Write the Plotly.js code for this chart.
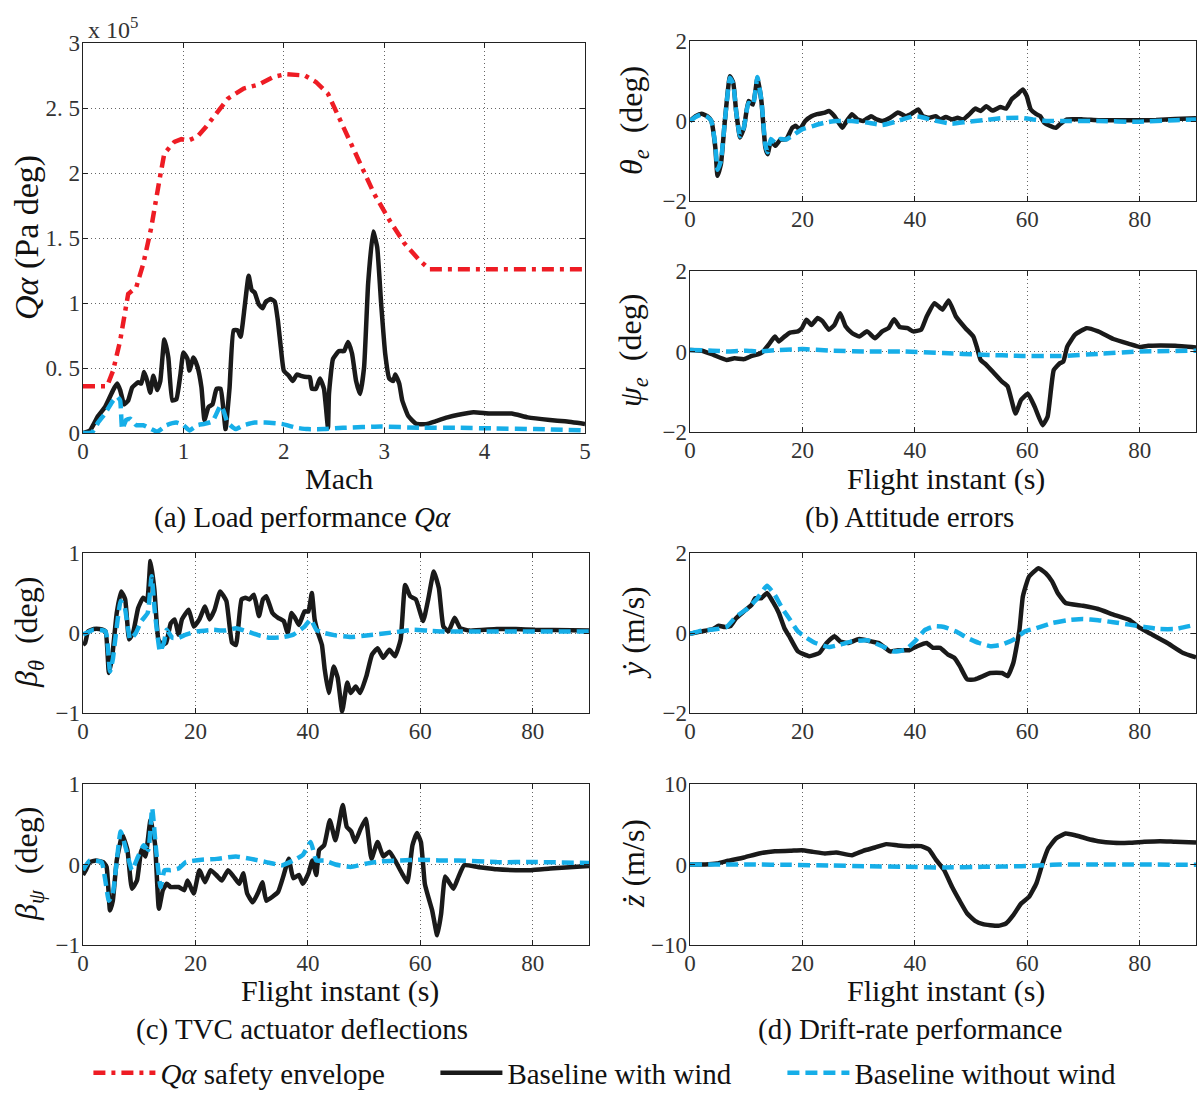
<!DOCTYPE html>
<html><head><meta charset="utf-8">
<script src="https://cdn.plot.ly/plotly-3.0.1.min.js"></script>
<style>html,body{margin:0;padding:0;background:#fff;}</style>
</head><body>
<div id="chart" style="width:1201px;height:1097px;"></div>
<script>
// ---------- DATA ----------
// (a) Q-alpha vs Mach, values in units of 1e5 Pa·deg
const machEnv = [0,0.24,0.30,0.37,0.45,0.53,0.60,0.68,0.76,0.81,0.91,0.98,1.05,1.14,1.23,1.33,1.44,1.60,1.75,1.90,2.02,2.21,2.32,2.44,2.59,2.74,2.90,3.05,3.20,3.35,3.45,5.0];
const qaEnv   = [0.36,0.36,0.48,0.71,1.07,1.12,1.30,1.58,1.94,2.15,2.24,2.26,2.25,2.28,2.36,2.46,2.57,2.65,2.68,2.74,2.76,2.75,2.70,2.61,2.36,2.12,1.84,1.64,1.46,1.33,1.26,1.26];
const machWind = [0,0.07,0.15,0.22,0.30,0.34,0.37,0.41,0.45,0.49,0.55,0.58,0.61,0.64,0.67,0.70,0.74,0.77,0.81,0.85,0.89,0.93,0.97,1.00,1.04,1.06,1.10,1.14,1.18,1.21,1.25,1.29,1.33,1.37,1.40,1.42,1.46,1.50,1.54,1.57,1.61,1.65,1.68,1.71,1.75,1.79,1.82,1.87,1.91,1.94,1.97,2.00,2.05,2.09,2.13,2.17,2.23,2.26,2.28,2.32,2.36,2.40,2.44,2.45,2.49,2.55,2.60,2.64,2.68,2.72,2.76,2.80,2.84,2.89,2.93,2.97,3.01,3.05,3.09,3.11,3.15,3.18,3.24,3.32,3.43,3.51,3.63,3.74,3.89,4.05,4.27,4.43,4.65,4.80,5.0];
const qaWind   = [0,0.02,0.13,0.20,0.33,0.38,0.33,0.22,0.25,0.35,0.39,0.38,0.47,0.40,0.31,0.44,0.33,0.40,0.72,0.58,0.25,0.26,0.45,0.62,0.57,0.48,0.58,0.51,0.35,0.10,0.20,0.22,0.34,0.34,0.17,0.03,0.35,0.79,0.79,0.74,0.97,1.21,1.10,1.08,0.99,0.96,1.01,1.03,1.01,0.87,0.66,0.48,0.44,0.40,0.45,0.44,0.43,0.43,0.34,0.34,0.42,0.34,0.04,0.30,0.57,0.63,0.63,0.70,0.61,0.40,0.30,0.51,1.15,1.55,1.43,0.99,0.61,0.42,0.40,0.45,0.38,0.25,0.13,0.07,0.07,0.09,0.12,0.14,0.16,0.15,0.15,0.12,0.10,0.09,0.07];
const machNoWind = [0,0.09,0.15,0.22,0.30,0.34,0.37,0.39,0.43,0.47,0.53,0.60,0.68,0.74,0.83,0.93,1.00,1.06,1.14,1.21,1.29,1.37,1.40,1.44,1.52,1.60,1.71,1.82,1.98,2.13,2.24,2.40,2.59,2.97,3.35,3.74,4.11,4.50,5.0];
const qaNoWind   = [0,0.005,0.08,0.15,0.25,0.28,0.25,0.03,0.10,0.11,0.06,0.06,0.03,0.01,0.06,0.08,0.06,0.02,0.06,0.07,0.09,0.21,0.17,0.08,0.03,0.06,0.08,0.08,0.07,0.04,0.03,0.03,0.04,0.05,0.04,0.04,0.035,0.03,0.02];
const qaTickVals = [0,0.5,1,1.5,2,2.5,3];
const qaTickText = ['0','0. 5','1','1. 5','2','2. 5','3'];

// (b) attitude errors (deg) vs flight time (s)
const tThetaW = [0,1,2.05,3.1,3.8,4.5,4.9,5.5,6.2,7.1,7.7,8.2,8.9,9.6,10.4,11.2,12.0,12.7,13.4,13.8,14.4,15.2,16.1,17.1,18.2,18.8,19.5,20.5,21.6,22.6,24.0,24.7,25.7,27.1,27.7,28.8,29.8,30.8,32.2,33.2,34.2,35.6,37.0,38.4,39.4,40.6,41.4,42.5,43.7,44.5,45.5,46.6,47.6,48.6,49.7,50.7,51.7,52.7,53.8,55.2,56.2,57.2,58.2,59.2,59.9,60.6,61.6,62.3,63.0,64.0,65.1,65.8,67.1,69.9,72.6,76.0,79.5,82.9,86.3,90];
const thetaW  = [0,0.12,0.18,0.12,0,-0.66,-1.37,-1.08,0,1.12,0.95,0.25,-0.41,-0.17,0.50,0.41,1.08,0.50,-0.66,-0.83,-0.50,-0.62,-0.46,-0.46,-0.17,-0.12,-0.21,0,0.12,0.17,0.21,0.25,0.12,-0.17,-0.04,0.17,0.04,0,0.12,0.04,0,0.08,0.21,0.12,0.18,0.29,0.12,0.08,0.12,0.04,0.10,0.04,0.08,0.04,0.17,0.31,0.25,0.37,0.26,0.35,0.31,0.54,0.66,0.79,0.62,0.29,0.17,0.12,-0.04,-0.12,-0.17,-0.08,0.04,0.04,0.02,0.02,0.02,0.025,0.05,0.07];
const tThetaN = [0,1,2.05,3.1,3.8,4.5,4.9,5.5,6.2,7.1,7.7,8.2,8.9,9.6,10.4,11.2,12.0,12.7,13.4,13.8,14.4,15.2,16.1,17.1,18.2,19.9,22.0,24.0,26.0,28.8,31.5,34.2,37.0,39.7,41.1,43.2,46.6,49.3,52.1,55.5,58.9,61.0,63.7,66.4,72.6,79.5,86.3,90];
const thetaN  = [0,0.10,0.16,0.10,0,-0.6,-1.22,-1.0,0,1.08,0.92,0.25,-0.38,-0.15,0.45,0.40,1.10,0.52,-0.6,-0.78,-0.45,-0.55,-0.45,-0.46,-0.37,-0.21,-0.12,-0.04,0,0,-0.04,-0.10,0,0.12,0.10,0.02,-0.07,-0.02,0.02,0.07,0.08,0.04,0,0,0,-0.02,0.02,0.04];
const tPsiW = [0,2.1,4.1,6.5,7.9,9.6,11.0,12.3,13.0,14.0,15.1,15.8,16.8,17.8,19.2,19.9,20.7,21.6,22.7,23.6,24.7,25.7,26.7,27.7,28.8,30.1,31.5,32.9,34.2,35.3,36.3,37.3,38.7,39.7,41.1,42.1,43.5,44.9,46.0,47.3,49.0,50.4,51.0,51.7,52.7,54.1,55.5,56.5,57.9,58.9,60.1,61.3,62.7,63.6,64.7,65.8,66.4,67.1,68.5,70.5,72.6,75.3,78.1,80.1,81.5,83.6,86.3,90];
const psiW  = [0.04,0.02,-0.08,-0.21,-0.17,-0.19,-0.11,-0.06,0,0.17,0.37,0.25,0.37,0.47,0.50,0.58,0.79,0.66,0.83,0.75,0.54,0.66,0.95,0.62,0.46,0.37,0.50,0.33,0.50,0.58,0.80,0.61,0.58,0.50,0.54,0.87,1.20,1.04,1.27,0.87,0.58,0.37,0.12,-0.21,-0.33,-0.54,-0.75,-0.87,-1.54,-1.20,-1.05,-1.37,-1.83,-1.62,-0.46,-0.29,-0.25,0.12,0.42,0.58,0.50,0.31,0.19,0.11,0.14,0.15,0.14,0.10];
const tPsiN = [0,4,7,10,12,16,20,25,31.5,38,45,52,59,66,72.6,79.5,90];
const psiN  = [0.04,0.02,0,0.02,0,0.04,0.06,0.02,0,0,-0.04,-0.08,-0.11,-0.11,-0.06,0,0.02];

// (c) TVC actuator deflections (deg)
const tBthW = [0,0.4,0.9,1.9,2.9,4.0,4.6,5.2,6.0,6.8,7.5,8.2,8.9,9.8,10.7,11.4,12.0,12.7,13.4,14.1,14.8,15.6,16.3,17.0,17.6,18.8,19.7,20.7,21.7,22.5,23.4,24.4,25.5,26.5,27.2,28.2,28.9,29.6,30.4,31.3,32.0,32.6,33.7,34.7,35.7,36.4,37.1,37.7,38.4,39.4,40.1,40.7,41.2,41.8,42.5,43.0,43.7,44.6,45.3,46.1,47.0,47.6,48.5,49.3,50.4,51.4,52.4,53.4,54.5,55.5,56.5,57.3,58.2,59.2,60.5,61.4,62.4,63.3,64.1,65.0,66.1,67.1,68.8,73.6,77.0,80.4,90];
const bthW  = [-0.15,-0.12,0.02,0.05,0.05,0.02,-0.50,-0.29,0.25,0.52,0.42,-0.08,0,0.31,0.44,0.40,0.90,0.54,-0.08,-0.15,-0.12,0.12,0.17,-0.02,0.17,0.29,0.08,0.17,0.33,0.17,0.29,0.52,0.40,-0.12,-0.15,0.42,0.44,0.42,0.48,0.21,0.42,0.46,0.25,0.19,0.15,0,0.25,0.19,0.10,0.27,0.27,0.50,0.17,0,-0.15,-0.46,-0.75,-0.42,-0.56,-0.98,-0.62,-0.75,-0.67,-0.75,-0.54,-0.27,-0.19,-0.31,-0.21,-0.29,-0.08,0.60,0.46,0.42,0.15,0.42,0.77,0.56,0.08,0.02,0.19,0.06,0.03,0.05,0.05,0.04,0.03];
const tBthN = [0,1.9,4.0,4.8,5.3,6.7,7.4,8.4,9.4,10.4,11.5,12.2,12.8,13.7,14.4,14.9,15.9,17.0,18.3,20.3,23.1,25.1,27.2,29.2,31.3,33.3,35.7,37.4,39.4,40.5,41.5,42.9,44.9,47.6,50.4,53.1,56.5,58.6,61.3,64.0,70.1,80.4,90];
const bthN  = [-0.02,0.04,0.02,-0.48,-0.33,0.40,0.33,-0.08,0,0.15,0.25,0.71,0.25,-0.23,-0.12,0.04,-0.06,-0.06,-0.02,0.02,0.04,0.03,0.06,0.02,-0.03,-0.06,-0.05,-0.02,0.08,0.17,0.04,0,-0.03,-0.05,-0.03,-0.01,0.02,0.04,0.03,0.02,0.02,0.02,0.02];
const tBpsW = [0,0.5,1.2,2.3,3.6,4.2,4.8,5.3,6.0,7.0,7.9,8.7,9.6,10.4,11.1,12.0,12.8,13.5,14.2,14.9,15.6,17.0,18.0,18.6,19.7,20.7,21.7,22.7,23.7,24.7,25.8,26.8,27.8,28.5,29.2,30.2,31.2,31.9,32.6,33.7,34.7,35.7,36.6,37.4,38.4,39.1,40.1,40.8,41.5,42.0,42.9,43.9,44.9,46.2,46.9,47.7,48.4,49.3,50.3,51.3,52.4,53.4,54.5,55.5,56.9,57.7,58.6,59.4,60.1,60.8,61.4,62.1,63.0,63.7,64.4,65.1,65.9,66.8,67.8,70.2,73.6,77.0,79.7,83.1,87.2,90];
const bpsW  = [-0.13,-0.07,0.03,0.05,0.03,-0.03,-0.57,-0.45,0.05,0.37,0.18,-0.30,-0.20,0.18,0.10,0.55,0.26,-0.55,-0.32,-0.24,-0.28,-0.28,-0.32,-0.20,-0.36,-0.07,-0.22,-0.07,-0.13,-0.20,-0.07,-0.15,-0.24,-0.11,-0.36,-0.47,-0.34,-0.22,-0.45,-0.40,-0.34,-0.13,0.07,-0.17,-0.13,-0.24,-0.11,0.05,-0.13,0.18,0.24,0.55,0.30,0.74,0.47,0.41,0.28,0.43,0.57,0.07,0.28,0.10,0.16,0.05,-0.13,-0.22,0.24,0.39,0.28,-0.24,-0.40,-0.57,-0.88,-0.61,-0.15,-0.22,-0.30,-0.15,-0.01,-0.03,-0.06,-0.07,-0.07,-0.05,-0.03,-0.02];
const tBpsN = [0,1.2,3.3,4.6,5.3,6.7,7.7,8.7,9.8,10.8,11.6,12.3,13.0,13.8,14.5,15.6,17.0,18.3,21.1,23.8,27.2,29.9,32.6,35.4,37.4,39.1,40.5,41.5,42.9,44.9,47.6,50.3,53.1,56.5,59.9,63.3,66.8,73.6,80.4,90];
const bpsN  = [-0.07,0.05,0.03,-0.45,-0.36,0.41,0.18,-0.07,0.10,0.24,0.18,0.70,0.18,-0.28,-0.07,-0.07,-0.05,0.03,0.06,0.07,0.10,0.07,0.03,-0.01,0.05,0.12,0.28,0.05,0.05,0,-0.03,0.01,0.04,0.05,0.06,0.05,0.05,0.03,0.03,0.02];

// (d) drift rates (m/s)
const tYdW = [0,2.1,4.1,5.1,6.2,7.2,8.2,9.6,11.0,11.6,12.7,13.7,14.7,15.8,16.8,17.8,19.2,21.2,23.0,24.3,25.7,26.7,28.1,30.1,32.2,33.6,35.6,37.0,39.0,40.4,42.1,43.2,44.5,45.9,47.0,48.0,49.3,50.7,52.1,53.4,55.5,56.5,57.5,58.6,59.2,60.3,62.0,63.3,64.4,65.4,66.8,69.9,72.6,75.3,78.1,80.1,82.2,84.9,87.7,90];
const ydW  = [-0.02,0.04,0.10,0.18,0.15,0.17,0.37,0.54,0.71,0.87,0.87,1.00,0.79,0.50,0.12,-0.12,-0.46,-0.58,-0.50,-0.25,-0.08,-0.21,-0.25,-0.15,-0.21,-0.25,-0.46,-0.43,-0.43,-0.33,-0.25,-0.37,-0.37,-0.54,-0.62,-0.83,-1.16,-1.16,-1.08,-1.00,-1.00,-1.08,-0.75,0.08,0.91,1.41,1.62,1.49,1.29,1.00,0.75,0.68,0.60,0.46,0.33,0.12,-0.04,-0.25,-0.50,-0.61];
const tYdN = [0,2.1,4.8,6.5,8.2,10.3,12.0,13.7,15.1,16.4,17.8,19.2,20.5,22.3,24.7,26.7,28.8,31.5,34.2,36.3,38.4,40.0,41.8,43.5,45.2,47.3,49.3,51.4,53.4,55.5,57.5,59.6,61.6,64.4,67.1,69.9,72.6,75.3,78.1,80.8,83.6,86.3,90];
const ydN  = [-0.02,0.06,0.10,0.15,0.41,0.62,0.87,1.18,0.95,0.62,0.33,0.04,-0.10,-0.25,-0.35,-0.29,-0.21,-0.18,-0.33,-0.46,-0.41,-0.21,0.08,0.17,0.15,0.04,-0.12,-0.25,-0.33,-0.29,-0.17,0.04,0.12,0.25,0.32,0.35,0.32,0.27,0.21,0.15,0.10,0.10,0.21];
const tZdW = [0,2.7,4.8,6.8,9.6,12.3,15.1,17.8,19.9,21.9,24.0,26.0,28.8,30.8,32.9,34.9,37.0,39.0,41.1,42.5,43.8,45.2,46.6,47.9,49.3,50.7,52.1,53.4,54.8,56.2,57.5,58.9,60.3,61.6,62.7,63.7,65.1,66.8,68.5,70.5,72.6,75.3,78.1,80.8,83.6,86.3,90];
const zdW  = [0,0,0.12,0.46,0.87,1.37,1.66,1.70,1.78,1.57,1.37,1.49,1.16,1.70,2.11,2.53,2.36,2.28,2.28,1.86,0.54,-0.70,-2.77,-4.43,-6.09,-7.00,-7.41,-7.54,-7.62,-7.33,-6.29,-4.84,-4.02,-2.36,0.12,1.99,3.23,3.85,3.64,3.23,2.90,2.69,2.69,2.82,2.90,2.82,2.73];
const tZdN = [0,11,17.8,24.7,31.5,38.4,45.2,52.1,58.9,63.0,65.8,72.6,79.5,90];
const zdN  = [0,0,-0.04,-0.12,-0.21,-0.29,-0.37,-0.29,-0.21,-0.08,0,0,0,-0.04];

const seriesNames = ['<i>Qα</i> safety envelope','Baseline with wind','Baseline without wind'];
const timeTicks = [0,20,40,60,80];

// ---------- STYLE ----------
const FONT = "'Liberation Serif', 'Times New Roman', serif";
const RED = '#ee1c24', BLACK = '#1a1a1a', BLUE = '#16aee8';
const redLine   = {color: RED, width: 4.5, dash: '12px,6px,4px,6px'};
const blackLine = {color: BLACK, width: 4.5, shape:'spline', smoothing:0.4};
const blueLine  = {color: BLUE, width: 4.5, dash: '12px,6px', shape:'spline', smoothing:0.4};

function tr(x, y, line, ax, name, show) {
  return {type:'scatter', mode:'lines', x:x, y:y, line:line,
          xaxis:'x'+ax, yaxis:'y'+ax, name:name, showlegend:!!show, hoverinfo:'skip'};
}

const traces = [
  tr(machEnv, qaEnv, redLine, '', seriesNames[0], true),
  tr(machWind, qaWind, blackLine, '', seriesNames[1], true),
  tr(machNoWind, qaNoWind, blueLine, '', seriesNames[2], true),
  tr(tThetaW, thetaW, blackLine, '2', seriesNames[1]),
  tr(tThetaN, thetaN, blueLine, '2', seriesNames[2]),
  tr(tPsiW, psiW, blackLine, '3', seriesNames[1]),
  tr(tPsiN, psiN, blueLine, '3', seriesNames[2]),
  tr(tBthW, bthW, blackLine, '4', seriesNames[1]),
  tr(tBthN, bthN, blueLine, '4', seriesNames[2]),
  tr(tBpsW, bpsW, blackLine, '5', seriesNames[1]),
  tr(tBpsN, bpsN, blueLine, '5', seriesNames[2]),
  tr(tYdW, ydW, blackLine, '6', seriesNames[1]),
  tr(tYdN, ydN, blueLine, '6', seriesNames[2]),
  tr(tZdW, zdW, blackLine, '7', seriesNames[1]),
  tr(tZdN, zdN, blueLine, '7', seriesNames[2])
];

const W = 1201, H = 1097;
const px = (a,b) => [a/W, b/W];
const py = (top,bottom) => [1-bottom/H, 1-top/H];

function baseAx(extra) {
  return Object.assign({
    showline:true, linecolor:'#222', linewidth:1.3, mirror:'ticks',
    ticks:'inside', ticklen:5, tickcolor:'#222', tickwidth:1,
    showgrid:true, gridcolor:'#666', griddash:'1px,3px', gridwidth:1,
    zeroline:false, fixedrange:true, ticklabelstandoff:-3,
    tickfont:{family:FONT, size:23, color:'#333'}
  }, extra);
}

// text labels placed in page pixels
function label(text, x, y, size, angle) {
  return {xref:'paper', yref:'paper', x:x/W, y:1-y/H, xanchor:'center', yanchor:'middle',
          showarrow:false, text:text, textangle:angle||0,
          font:{family:FONT, size:size, color:'#111'}};
}

const xA = px(83,585), xB = px(690,1196), xC = px(83,589), xD = px(690,1196);
const layout = {
  width:W, height:H, margin:{l:0,r:0,t:0,b:0, autoexpand:false},
  paper_bgcolor:'#fff', plot_bgcolor:'#fff',
  font:{family:FONT, color:'#111'},
  showlegend:true,
  legend:{orientation:'h', x:0.507, xanchor:'center', y:1-1073/H, yanchor:'middle',
          font:{family:FONT, size:29, color:'#111'}, itemwidth:62,
          entrywidth:270, entrywidthmode:'pixels', bgcolor:'rgba(0,0,0,0)'},
  xaxis: baseAx({domain:xA, anchor:'y', range:[0,5], dtick:1}),
  yaxis: baseAx({domain:py(43,433), anchor:'x', range:[0,3], tickvals:qaTickVals, ticktext:qaTickText}),
  xaxis2: baseAx({domain:xB, anchor:'y2', range:[0,90], tickvals:timeTicks}),
  yaxis2: baseAx({domain:py(41,201), anchor:'x2', range:[-2,2], dtick:2}),
  xaxis3: baseAx({domain:xB, anchor:'y3', range:[0,90], tickvals:timeTicks}),
  yaxis3: baseAx({domain:py(271,432), anchor:'x3', range:[-2,2], dtick:2}),
  xaxis4: baseAx({domain:xC, anchor:'y4', range:[0,90], tickvals:timeTicks}),
  yaxis4: baseAx({domain:py(553,713), anchor:'x4', range:[-1,1], dtick:1}),
  xaxis5: baseAx({domain:xC, anchor:'y5', range:[0,90], tickvals:timeTicks}),
  yaxis5: baseAx({domain:py(784,945), anchor:'x5', range:[-1,1], dtick:1}),
  xaxis6: baseAx({domain:xD, anchor:'y6', range:[0,90], tickvals:timeTicks}),
  yaxis6: baseAx({domain:py(553,713), anchor:'x6', range:[-2,2], dtick:2}),
  xaxis7: baseAx({domain:xD, anchor:'y7', range:[0,90], tickvals:timeTicks}),
  yaxis7: baseAx({domain:py(784,945), anchor:'x7', range:[-10,10], dtick:10}),
  annotations:[
    // axis titles
    label('<i>Qα</i> (Pa deg)', 27, 238, 34, -90),
    label('Mach', 339, 478, 30),
    label('<i>θ<sub>e</sub></i>&nbsp; (deg)', 633, 121, 32, -90),
    label('<i>ψ<sub>e</sub></i>&nbsp; (deg)', 633, 351, 32, -90),
    label('Flight instant (s)', 946, 479, 30),
    label('<i>β<sub>θ</sub></i>&nbsp; (deg)', 28, 633, 32, -90),
    label('<i>β<sub>ψ</sub></i>&nbsp; (deg)', 28, 864, 32, -90),
    label('Flight instant (s)', 340, 991, 30),
    label('<i>ẏ</i> (m/s)', 633, 633, 32, -90),
    label('<i>ż</i> (m/s)', 633, 864, 32, -90),
    label('Flight instant (s)', 946, 991, 30),
    // exponent
    {xref:'paper', yref:'paper', x:86/W, y:1-28/H, xanchor:'left', yanchor:'middle', showarrow:false,
     text:'x 10<sup>5</sup>', font:{family:FONT, size:24, color:'#333'}},
    // captions
    label('(a) Load performance <i>Qα</i>', 302, 517, 29),
    label('(b) Attitude errors', 909, 517, 29),
    label('(c) TVC actuator deflections', 302, 1029, 29),
    label('(d) Drift-rate performance', 910, 1029, 29)
  ]
};

Plotly.newPlot('chart', traces, layout, {displayModeBar:false, staticPlot:true});
</script>
</body></html>
